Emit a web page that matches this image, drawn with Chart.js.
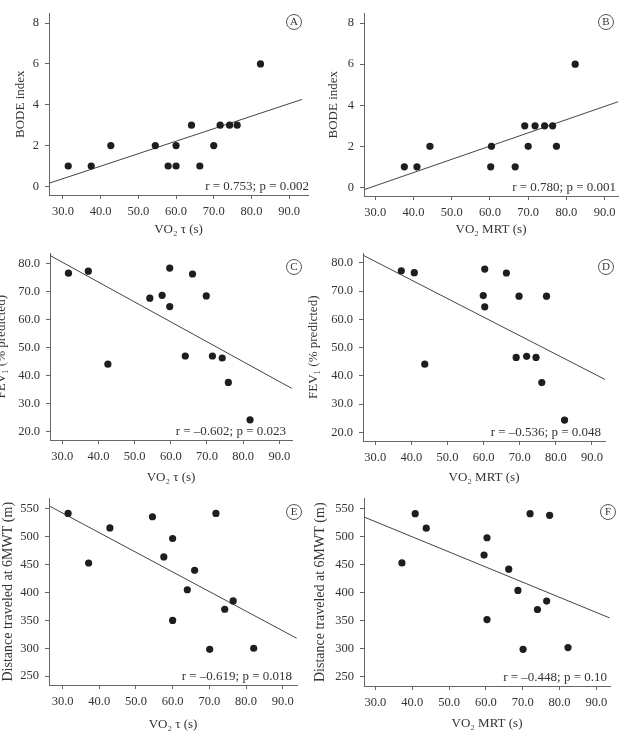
<!DOCTYPE html>
<html>
<head>
<meta charset="utf-8">
<script src="https://cdn.jsdelivr.net/npm/chart.js@4.4.1/dist/chart.umd.min.js"></script>
<style>
  html, body { margin: 0; padding: 0; background: #fff; }
  body { width: 624px; height: 731px; position: relative; overflow: hidden; }
  canvas { position: absolute; }
</style>
</head>
<body>
<canvas id="panelA" width="312" height="240" style="left:0;top:0"></canvas>
<canvas id="panelB" width="312" height="240" style="left:312px;top:0"></canvas>
<canvas id="panelC" width="312" height="248" style="left:0;top:240px"></canvas>
<canvas id="panelD" width="324" height="248" style="left:300px;top:240px"></canvas>
<canvas id="panelE" width="312" height="252" style="left:0;top:485px"></canvas>
<canvas id="panelF" width="312" height="252" style="left:312px;top:485px"></canvas>
<script>
// values
const tauA  = [31.4, 37.5, 42.7, 54.5, 57.9, 60.0, 60.0, 64.1, 66.3, 70.0, 71.7, 74.2, 76.2, 82.4];
const bodeA = [1, 1, 2, 2, 1, 2, 1, 3, 1, 2, 3, 3, 3, 6];
const mrtB  = [37.6, 40.9, 44.3, 60.2, 60.4, 66.6, 69.1, 70.0, 71.8, 74.3, 76.4, 77.4, 82.3];
const bodeB = [1, 1, 2, 1, 2, 1, 3, 2, 3, 3, 3, 2, 6];
const tauC  = [31.7, 37.2, 42.6, 54.2, 57.6, 59.7, 59.7, 64.0, 66.0, 69.8, 71.5, 74.2, 75.9, 81.9];
const fevC  = [76.5, 77.2, 44.1, 67.6, 68.6, 78.3, 64.6, 47.0, 76.2, 68.4, 47.0, 46.3, 37.6, 24.3];
const mrtD  = [37.2, 40.8, 43.7, 59.9, 60.3, 60.3, 66.3, 69.0, 69.8, 71.9, 74.5, 76.1, 77.4, 82.4];
const fevD  = [77.2, 76.5, 44.1, 68.4, 77.8, 64.4, 76.4, 46.5, 68.2, 46.9, 46.5, 37.6, 68.2, 24.3];
const tauE  = [31.5, 37.1, 42.9, 54.5, 57.6, 60.0, 60.0, 64.0, 66.0, 70.1, 71.8, 74.2, 76.5, 82.1];
const distE = [542, 453, 516, 536, 464, 497, 350, 405, 440, 298, 542, 370, 385, 300];
const mrtF  = [37.2, 40.8, 43.8, 59.5, 60.3, 60.3, 66.2, 68.7, 70.1, 72.0, 74.0, 76.5, 77.3, 82.3];
const distF = [453, 541, 515, 467, 498, 352, 442, 404, 299, 541, 370, 385, 538, 302];

// regression line end points [x, y]
const fitA = [[26.4, 0.16], [93.4, 4.26]];
const fitB = [[27.1, -0.11], [93.5, 4.17]];
const fitC = [[26.6, 82.8], [93.4, 35.5]];
const fitD = [[26.6, 82.7], [93.6, 38.7]];
const fitE = [[26.4, 555.3], [93.8, 318]];
const fitF = [[26.8, 535.3], [93.6, 355]];

const statsA = 'r = 0.753; p = 0.002';
const statsB = 'r = 0.780; p = 0.001';
const statsC = 'r = \u20130.602; p = 0.023';
const statsD = 'r = \u20130.536; p = 0.048';
const statsE = 'r = \u20130.619; p = 0.018';
const statsF = 'r = \u20130.448; p = 0.10';

const xTicks = [30, 40, 50, 60, 70, 80, 90];
const bodeTicks = [0, 2, 4, 6, 8];
const fevTicks = [20, 30, 40, 50, 60, 70, 80];
const distTicks = [250, 300, 350, 400, 450, 500, 550];

const SERIF = '"Liberation Serif", "DejaVu Serif", serif';
const TEXT = '#333';
const AXIS = '#666';

// draws the r/p note and the circled panel letter
const panelDecor = {
    id: 'panelDecor',
    afterDraw(chart, args, o) {
        const ctx = chart.ctx;
        const area = chart.chartArea;
        ctx.save();
        ctx.fillStyle = TEXT;
        ctx.font = '13px ' + SERIF;
        ctx.textAlign = 'right';
        ctx.textBaseline = 'alphabetic';
        ctx.fillText(o.stats, o.sx, area.bottom - 5);

        ctx.strokeStyle = '#444';
        ctx.lineWidth = 0.9;
        ctx.beginPath();
        ctx.arc(o.lx, o.ly, 7.5, 0, Math.PI * 2);
        ctx.stroke();
        ctx.font = '11px ' + SERIF;
        ctx.textAlign = 'center';
        ctx.textBaseline = 'middle';
        ctx.fillText(o.letter, o.lx, o.ly + 0.5);
        ctx.restore();
    }
};

function makePanel(id, p) {
    const pts = p.x.map((v, i) => ({ x: v, y: p.y[i] }));
    return new Chart(document.getElementById(id), {
        type: 'scatter',
        data: {
            datasets: [
                {
                    data: pts,
                    pointRadius: 3.6,
                    pointBackgroundColor: '#1e1e1e',
                    pointBorderWidth: 0,
                    order: 1
                },
                {
                    type: 'line',
                    data: p.fit.map(d => ({ x: d[0], y: d[1] })),
                    borderColor: '#444',
                    borderWidth: 1,
                    pointRadius: 0,
                    fill: false,
                    order: 2
                }
            ]
        },
        plugins: [panelDecor],
        options: {
            responsive: false,
            devicePixelRatio: 1,
            animation: false,
            events: [],
            layout: { padding: { top: p.top, right: p.right, left: 0, bottom: 0 } },
            plugins: {
                legend: { display: false },
                tooltip: { enabled: false },
                panelDecor: { stats: p.stats, sx: p.sx, letter: p.letter, lx: p.lx, ly: p.ly }
            },
            scales: {
                x: {
                    type: 'linear',
                    min: p.xMin,
                    max: p.xMax,
                    afterBuildTicks: s => { s.ticks = xTicks.map(v => ({ value: v })); },
                    afterFit: s => { s.height = p.xH; },
                    ticks: {
                        autoSkip: false,
                        maxRotation: 0,
                        padding: 5,
                        color: TEXT,
                        font: { family: SERIF, size: 12.5 },
                        callback: v => v.toFixed(1)
                    },
                    grid: { drawOnChartArea: false, tickLength: 4, color: AXIS },
                    border: { color: AXIS, width: 1 },
                    title: {
                        display: true,
                        text: p.xTitle,
                        color: TEXT,
                        font: { family: SERIF, size: 13 },
                        padding: { top: 0, bottom: p.xTitlePad }
                    }
                },
                y: {
                    type: 'linear',
                    min: p.yMin,
                    max: p.yMax,
                    afterBuildTicks: s => { s.ticks = p.yTicks.map(v => ({ value: v })); },
                    afterFit: s => { s.width = p.yW; },
                    ticks: {
                        padding: 6,
                        color: TEXT,
                        font: { family: SERIF, size: 12.5 },
                        callback: p.yFmt
                    },
                    grid: { drawOnChartArea: false, tickLength: 4, color: AXIS },
                    border: { color: AXIS, width: 1 },
                    title: {
                        display: true,
                        text: p.yTitle,
                        color: TEXT,
                        font: { family: SERIF, size: p.yTitleSize },
                        padding: { top: p.yTitlePad, bottom: 0 }
                    }
                }
            }
        }
    });
}

const intFmt = v => String(v);
const oneDec = v => v.toFixed(1);

makePanel('panelA', {
    x: tauA, y: bodeA, fit: fitA, stats: statsA, letter: 'A',
    xMin: 26.3, xMax: 95.0, yMin: -0.42, yMax: 8.47, yTicks: bodeTicks, yFmt: intFmt,
    top: 5, right: 1, yW: 49, xH: 45, sx: 309, lx: 294, ly: 22,
    xTitle: 'VO\u2082 \u03c4 (s)', xTitlePad: 2.2,
    yTitle: 'BODE index', yTitleSize: 13, yTitlePad: 13.2
});
makePanel('panelB', {
    x: mrtB, y: bodeB, fit: fitB, stats: statsB, letter: 'B',
    xMin: 27.05, xMax: 93.5, yMin: -0.42, yMax: 8.47, yTicks: bodeTicks, yFmt: intFmt,
    top: 6, right: 6, yW: 52, xH: 44, sx: 304, lx: 294, ly: 22,
    xTitle: 'VO\u2082 MRT (s)', xTitlePad: 2.2,
    yTitle: 'BODE index', yTitleSize: 13, yTitlePad: 14.2
});
makePanel('panelC', {
    x: tauC, y: fevC, fit: fitC, stats: statsC, letter: 'C',
    xMin: 26.6, xMax: 93.5, yMin: 17.1, yMax: 83.5, yTicks: fevTicks, yFmt: oneDec,
    top: 10, right: 20, yW: 50, xH: 48, sx: 286, lx: 294, ly: 27,
    xTitle: 'VO\u2082 \u03c4 (s)', xTitlePad: 2.2,
    yTitle: 'FEV\u2081 (% predicted)', yTitleSize: 13, yTitlePad: -5.8
});
makePanel('panelD', {
    x: mrtD, y: fevD, fit: fitD, stats: statsD, letter: 'D',
    xMin: 26.6, xMax: 93.6, yMin: 16.9, yMax: 83.3, yTicks: fevTicks, yFmt: oneDec,
    top: 10, right: 19, yW: 63, xH: 47, sx: 301, lx: 306, ly: 27,
    xTitle: 'VO\u2082 MRT (s)', xTitlePad: 2.2,
    yTitle: 'FEV\u2081 (% predicted)', yTitleSize: 13, yTitlePad: 6.2
});
makePanel('panelE', {
    x: tauE, y: distE, fit: fitE, stats: statsE, letter: 'E',
    xMin: 26.3, xMax: 93.9, yMin: 234, yMax: 568.8, yTicks: distTicks, yFmt: intFmt,
    top: 10, right: 15, yW: 49, xH: 52, sx: 292, lx: 294, ly: 27,
    xTitle: 'VO\u2082 \u03c4 (s)', xTitlePad: 5,
    yTitle: 'Distance traveled at 6MWT (m)', yTitleSize: 14, yTitlePad: -0.4
});
makePanel('panelF', {
    x: mrtF, y: distF, fit: fitF, stats: statsF, letter: 'F',
    xMin: 26.9, xMax: 93.7, yMin: 233.5, yMax: 568, yTicks: distTicks, yFmt: intFmt,
    top: 11, right: 14, yW: 52, xH: 51, sx: 295, lx: 296, ly: 27,
    xTitle: 'VO\u2082 MRT (s)', xTitlePad: 6,
    yTitle: 'Distance traveled at 6MWT (m)', yTitleSize: 14, yTitlePad: -0.4
});
</script>
</body>
</html>
